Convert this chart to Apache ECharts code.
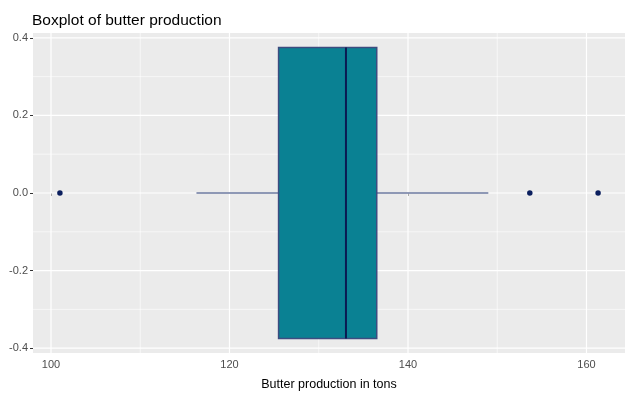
<!DOCTYPE html>
<html>
<head>
<meta charset="utf-8">
<script src="https://cdn.jsdelivr.net/npm/echarts@6/dist/echarts.min.js"></script>
<style>
  html, body { margin: 0; padding: 0; background: #fff; }
  #chart { width: 642px; height: 397px; }
</style>
</head>
<body>
<div id="chart"></div>
<script>
  // five-number summary: whisker low, q1, median, q3, whisker high
  const boxStats = [116.3, 125.5, 133.05, 136.5, 149.0];
  const outliers = [101.0, 153.65, 161.3];
  const xTicks = [100, 120, 140, 160];
  const xMinor = [110, 130, 150];
  const yTicks = [-0.4, -0.2, 0, 0.2, 0.4];
  const yMinor = [-0.3, -0.1, 0.1, 0.3];

  const xMin = 97.985, xMax = 164.315;
  const yMin = -0.4125, yMax = 0.4125;
  const halfBox = 0.375;

  const chart = echarts.init(document.getElementById('chart'));

  function gridLine(vertical, width) {
    return function (params, api) {
      const v = api.value(0);
      const a = vertical ? api.coord([v, yMin]) : api.coord([xMin, v]);
      const b = vertical ? api.coord([v, yMax]) : api.coord([xMax, v]);
      return {
        type: 'line',
        shape: { x1: a[0], y1: a[1], x2: b[0], y2: b[1] },
        style: { stroke: '#ffffff', lineWidth: width },
        silent: true,
      };
    };
  }

  chart.setOption({
    animation: false,
    backgroundColor: '#ffffff',
    textStyle: { fontFamily: 'Liberation Sans, Arial, sans-serif' },
    title: {
      text: 'Boxplot of butter production',
      left: 27,
      top: 8,
      textStyle: { fontSize: 15.5, fontWeight: 'normal', color: '#000000' },
    },
    grid: {
      left: 33,
      right: 17,
      top: 33,
      bottom: 44,
      show: true,
      backgroundColor: '#ebebeb',
      borderWidth: 0,
    },
    xAxis: {
      type: 'value',
      min: xMin,
      max: xMax,
      name: 'Butter production in tons',
      nameLocation: 'middle',
      nameGap: 25,
      nameTextStyle: { fontSize: 12.5, color: '#000000' },
      axisLine: { show: false },
      axisTick: {
        show: true,
        length: 3,
        lineStyle: { color: '#333333' },
        customValues: xTicks,
      },
      axisLabel: {
        fontSize: 11,
        color: '#4d4d4d',
        margin: 6,
        customValues: xTicks,
      },
      splitLine: { show: false },
    },
    yAxis: {
      type: 'value',
      min: yMin,
      max: yMax,
      axisLine: { show: false },
      axisTick: {
        show: true,
        length: 3,
        lineStyle: { color: '#333333' },
        customValues: yTicks,
      },
      axisLabel: {
        fontSize: 11,
        color: '#4d4d4d',
        margin: 5,
        customValues: yTicks,
        formatter: (v) => v.toFixed(1),
      },
      splitLine: { show: false },
    },
    series: [
      {
        type: 'custom',
        z: 1,
        silent: true,
        data: xMinor.map((v) => [v]),
        renderItem: gridLine(true, 0.6),
      },
      {
        type: 'custom',
        z: 1,
        silent: true,
        data: yMinor.map((v) => [v]),
        renderItem: gridLine(false, 0.6),
      },
      {
        type: 'custom',
        z: 1,
        silent: true,
        data: xTicks.map((v) => [v]),
        renderItem: gridLine(true, 1.2),
      },
      {
        type: 'custom',
        z: 1,
        silent: true,
        data: yTicks.map((v) => [v]),
        renderItem: gridLine(false, 1.2),
      },
      {
        type: 'custom',
        z: 3,
        data: [boxStats],
        renderItem: function (params, api) {
          const lo = api.value(0), q1 = api.value(1), med = api.value(2),
            q3 = api.value(3), hi = api.value(4);
          const pLo = api.coord([lo, 0]);
          const pQ1 = api.coord([q1, 0]);
          const pQ3 = api.coord([q3, 0]);
          const pHi = api.coord([hi, 0]);
          const tl = api.coord([q1, halfBox]);
          const br = api.coord([q3, -halfBox]);
          const mt = api.coord([med, halfBox]);
          const mb = api.coord([med, -halfBox]);
          const whisker = { stroke: '#6b789f', lineWidth: 1.5 };
          return {
            type: 'group',
            children: [
              { type: 'line', shape: { x1: pLo[0], y1: pLo[1], x2: pQ1[0], y2: pQ1[1] }, style: whisker },
              { type: 'line', shape: { x1: pQ3[0], y1: pQ3[1], x2: pHi[0], y2: pHi[1] }, style: whisker },
              {
                type: 'rect',
                shape: { x: tl[0], y: tl[1], width: br[0] - tl[0], height: br[1] - tl[1] },
                style: { fill: '#0a8193', stroke: '#3d4c80', lineWidth: 1.5 },
              },
              {
                type: 'line',
                shape: { x1: mt[0], y1: mt[1], x2: mb[0], y2: mb[1] },
                style: { stroke: '#0b1a52', lineWidth: 2 },
              },
            ],
          };
        },
      },
      {
        type: 'scatter',
        z: 4,
        symbol: 'circle',
        symbolSize: 5.5,
        itemStyle: { color: '#0b1f5e', opacity: 1 },
        data: outliers.map((v) => [v, 0]),
      },
    ],
  });
</script>
</body>
</html>
